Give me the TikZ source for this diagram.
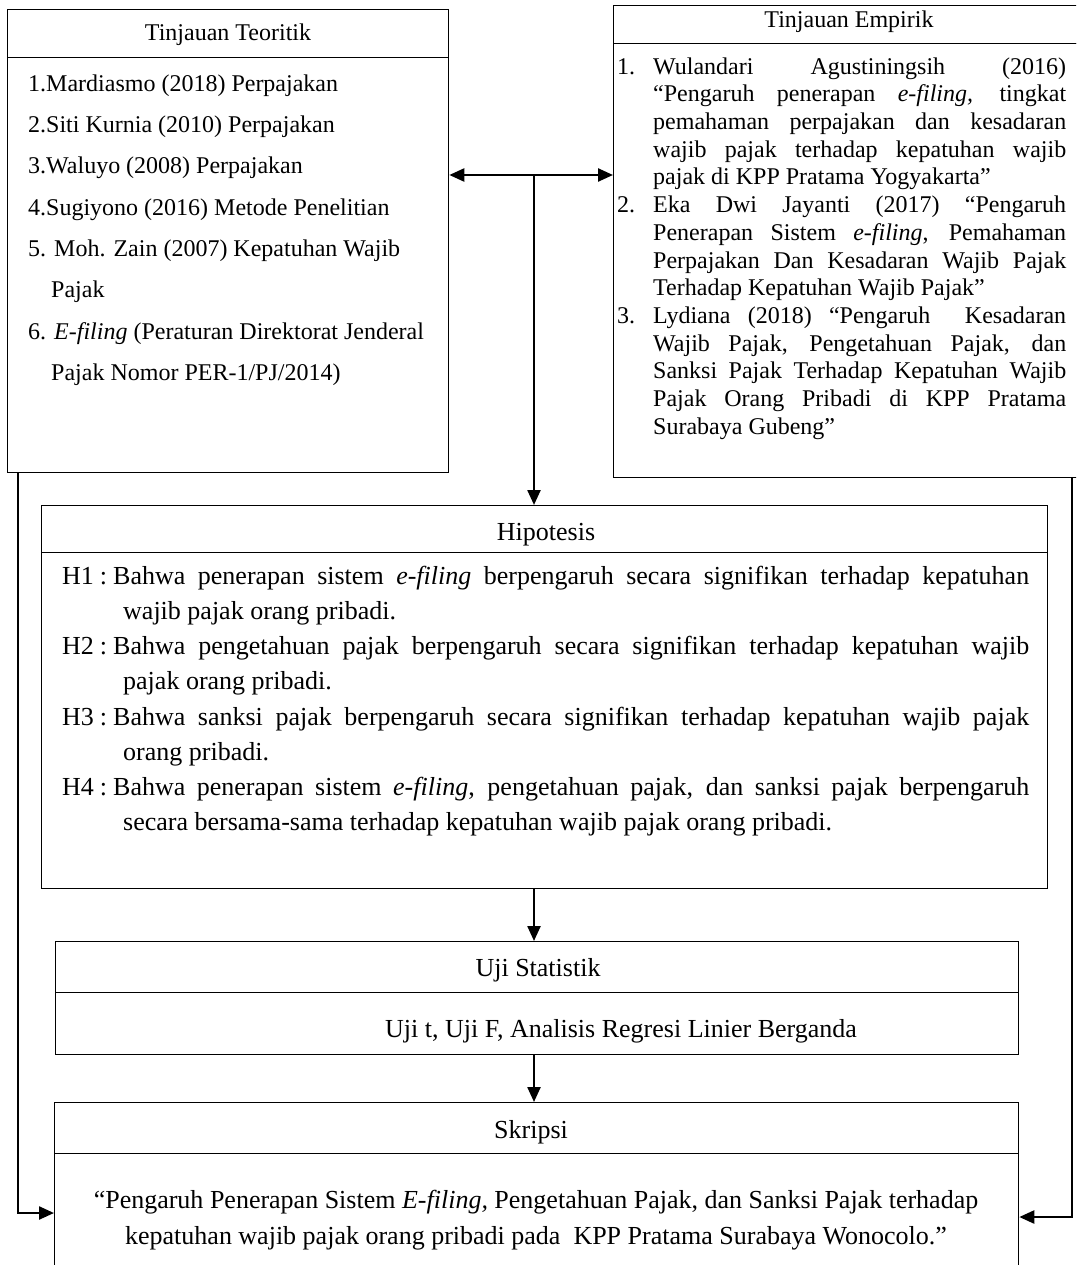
\documentclass[tikz,border=0pt]{standalone}
\usepackage{fontspec}
\setmainfont{Liberation Serif}
\usetikzlibrary{arrows.meta}

\begin{document}
\begin{tikzpicture}[x=1pt,y=-1pt,
  box/.style={draw,line width=1.3pt,inner sep=0pt,anchor=north west},
  conn/.style={line width=2.4pt},
  >={Triangle[length=15pt,width=13pt]},
  topfont/.style={font=\fontsize{24}{27.7}\selectfont},
  lowfont/.style={font=\fontsize{26}{35.2}\selectfont}]

\useasboundingbox (0,0) rectangle (1076,1265);
\clip (0,0) rectangle (1076,1265);

% boxes
\node[box,minimum width=441pt,minimum height=48pt] (teoHead) at (7,9) {};
\node[box,minimum width=441pt,minimum height=415pt] (teoBody) at (7,57) {};
\node[box,minimum width=472pt,minimum height=38pt] (empHead) at (613,5) {};
\node[box,minimum width=472pt,minimum height=434pt] (empBody) at (613,43) {};
\node[box,minimum width=1006pt,minimum height=47pt] (hipHead) at (41,505) {};
\node[box,minimum width=1006pt,minimum height=336pt] (hipBody) at (41,552) {};
\node[box,minimum width=963pt,minimum height=51pt] (ujiHead) at (55,941) {};
\node[box,minimum width=963pt,minimum height=62pt] (ujiBody) at (55,992) {};
\node[box,minimum width=964pt,minimum height=51pt] (skrHead) at (54,1102) {};
\node[box,minimum width=964pt,minimum height=140pt] (skrBody) at (54,1153) {};

% titles
\node[topfont,anchor=base] (teoTitle) at (228,41) {Tinjauan Teoritik};
\node[topfont,anchor=base] (empTitle) at (849,28) {Tinjauan Empirik};
\node[lowfont,anchor=base] (hipTitle) at (546,540) {Hipotesis};
\node[lowfont,anchor=base] (ujiTitle) at (538,976) {Uji Statistik};
\node[lowfont,anchor=base] (skrTitle) at (531,1138) {Skripsi};

% texts
\node[anchor=north west,inner sep=0pt,align=left,font=\fontsize{24}{41.3}\selectfont] (teoList) at (28,71) {%
\rule{0pt}{20pt}1.Mardiasmo (2018) Perpajakan\\
2.Siti Kurnia (2010) Perpajakan\\
3.Waluyo (2008) Perpajakan\\
4.Sugiyono (2016) Metode Penelitian\\
5. Moh. Zain (2007) Kepatuhan Wajib\\
\hspace*{23pt}Pajak\\
6. \textit{E-filing} (Peraturan Direktorat Jenderal\\
\hspace*{23pt}Pajak Nomor PER-1/PJ/2014)};

\node[topfont,anchor=north west,inner sep=0pt,text width=449pt,align=justify] (empList) at (617,54) {%
\noindent\rule{0pt}{20pt}\hangindent=36pt\hangafter=1\makebox[36pt][l]{1.}Wulandari Agustiningsih (2016) \linebreak “Pengaruh penerapan \textit{e-filing,} tingkat \linebreak pemahaman perpajakan dan kesadaran \linebreak wajib pajak terhadap kepatuhan wajib \linebreak pajak di KPP Pratama Yogyakarta”\par
\noindent\hangindent=36pt\hangafter=1\makebox[36pt][l]{2.}Eka Dwi Jayanti (2017) “Pengaruh \linebreak Penerapan Sistem \textit{e-filing}, Pemahaman \linebreak Perpajakan Dan Kesadaran Wajib Pajak \linebreak Terhadap Kepatuhan Wajib Pajak”\par
\noindent\hangindent=36pt\hangafter=1\makebox[36pt][l]{3.}Lydiana (2018) “Pengaruh \ Kesadaran \linebreak Wajib Pajak, Pengetahuan Pajak, dan \linebreak Sanksi Pajak Terhadap Kepatuhan Wajib \linebreak Pajak Orang Pribadi di KPP Pratama \linebreak Surabaya Gubeng”\par};

\node[lowfont,anchor=north west,inner sep=0pt,text width=967pt,align=justify] (hipList) at (62,562) {%
\noindent\rule{0pt}{22pt}\hangindent=61pt\hangafter=1 H1\hspace{6pt}:\hspace{6pt}Bahwa penerapan sistem \textit{e-filing} berpengaruh secara signifikan terhadap kepatuhan \linebreak wajib pajak orang pribadi.\par
\noindent\hangindent=61pt\hangafter=1 H2\hspace{6pt}:\hspace{6pt}Bahwa pengetahuan pajak berpengaruh secara signifikan terhadap kepatuhan wajib \linebreak pajak orang pribadi.\par
\noindent\hangindent=61pt\hangafter=1 H3\hspace{6pt}:\hspace{6pt}Bahwa sanksi pajak berpengaruh secara signifikan terhadap kepatuhan wajib pajak \linebreak orang pribadi.\par
\noindent\hangindent=61pt\hangafter=1 H4\hspace{6pt}:\hspace{6pt}Bahwa penerapan sistem \textit{e-filing}, pengetahuan pajak, dan sanksi pajak berpengaruh \linebreak secara bersama-sama terhadap kepatuhan wajib pajak orang pribadi.\par};

\node[lowfont,anchor=base] (ujiText) at (621,1037) {Uji t, Uji F, Analisis Regresi Linier Berganda};

\node[anchor=north,inner sep=0pt,align=center,font=\fontsize{26}{36}\selectfont] (skrText) at (536,1186) {%
\rule{0pt}{22pt}“Pengaruh Penerapan Sistem \textit{E-filing,} Pengetahuan Pajak, dan Sanksi Pajak terhadap\\
kepatuhan wajib pajak orang pribadi pada\ \ KPP Pratama Surabaya Wonocolo.”};

% connectors
\coordinate (fork) at (534,175);
\coordinate (leftIn) at (18,1213);
\coordinate (rightIn) at (1072,1217);

\draw[conn,<->] (fork -| teoBody.east) -- (fork -| empBody.west);
\draw[conn,->] (fork) -- (fork |- hipHead.north);
\draw[conn,->] (hipBody.south -| fork) -- (ujiHead.north -| fork);
\draw[conn,->] (ujiBody.south -| fork) -- (skrHead.north -| fork);
\draw[conn,->] (teoBody.south -| leftIn) |- (leftIn -| skrBody.west);
\draw[conn,->] (empBody.south -| rightIn) |- (rightIn -| skrBody.east);

\end{tikzpicture}
\end{document}
